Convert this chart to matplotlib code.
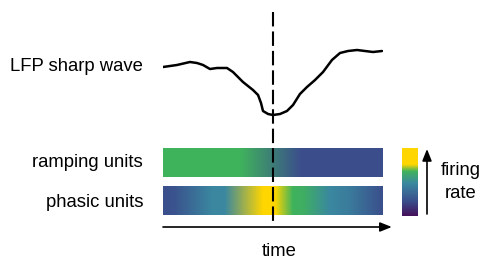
import numpy as np
import matplotlib
matplotlib.use("Agg")
import matplotlib.pyplot as plt
from matplotlib.colors import LinearSegmentedColormap
from matplotlib.patches import FancyArrowPatch

plt.rcParams["font.family"] = ["Liberation Sans", "DejaVu Sans"]
plt.rcParams["lines.scale_dashes"] = False

# ---------------- data ----------------
row_labels = ["ramping units", "phasic units"]
lfp_label = "LFP sharp wave"
time_label = "time"
cbar_label = "firing\nrate"
event_time = 0.0

# LFP sharp wave trace (time in ms, amplitude in a.u.)
lfp_t = [-100, -87.3, -75.5, -69.1, -63.6, -57.3, -50.9, -41.8, -36.4, -27.3,
         -18.2, -13.6, -10.9, -9.1, -4.5, 0.0, 6.4, 12.7, 18.2, 24.5,
         30.9, 38.2, 45.5, 53.6, 60.9, 68.2, 76.4, 83.6, 90.9, 99.1]
lfp_amp = [0.0, 0.2, 0.5, 0.4, 0.2, -0.2, -0.1, -0.1, -0.5, -1.5,
           -2.3, -2.8, -3.6, -4.4, -4.7, -4.8, -4.7, -4.4, -3.8, -2.7,
           -2.0, -1.3, -0.5, 0.7, 1.4, 1.6, 1.7, 1.6, 1.5, 1.6]

# normalized firing rate profiles (knots along time)
ramp_t = [-100, -30, 25, 100]
ramp_rate = [0.66, 0.66, 0.22, 0.22]
phasic_t = [-100, -90, -55, -44, -9, 0, 2, 18, 28, 52, 70, 100]
phasic_rate = [0.22, 0.24, 0.48, 0.48, 1.0, 1.0, 0.95, 0.66, 0.64, 0.48, 0.42, 0.22]

# colour scale for firing rate
cmap_pos = [0.0, 0.22, 0.48, 0.66, 0.76, 1.0]
cmap_cols = ["#45105a", "#3b4f8c", "#3a88a0", "#40b35c", "#ffd600", "#ffd600"]
rate_cmap = LinearSegmentedColormap.from_list("rate", list(zip(cmap_pos, cmap_cols)))

# ---------------- figure ----------------
W, H = 482, 260
fig = plt.figure(figsize=(W / 100, H / 100), dpi=100)


def px_axes(x0, y0, x1, y1):
    ax = fig.add_axes([x0 / W, 1 - y1 / H, (x1 - x0) / W, (y1 - y0) / H])
    ax.set_axis_off()
    return ax


T0, T1 = -100, 100

# LFP panel
ax_lfp = px_axes(163, 40, 383, 125)
ax_lfp.plot(lfp_t, lfp_amp, color="black", lw=1.8, solid_joinstyle="round",
            solid_capstyle="round")
ax_lfp.set_xlim(T0, T1)
ax_lfp.set_ylim(-5.8, 2.7)


def gradient_image(knot_t, knot_rate, n=441):
    grid = np.linspace(T0, T1, n)
    cols = rate_cmap(np.asarray(knot_rate))[:, :3]
    rgb = np.stack([np.interp(grid, knot_t, cols[:, c]) for c in range(3)], -1)
    return rgb[None, :, :]


bar_boxes = [(163, 148, 383, 177), (163, 186, 383, 215)]
for (x0, y0, x1, y1), kt, kr in zip(bar_boxes, [ramp_t, phasic_t], [ramp_rate, phasic_rate]):
    ax = px_axes(x0, y0, x1, y1)
    ax.imshow(gradient_image(kt, kr), aspect="auto", extent=[T0, T1, 0, 1],
              interpolation="bilinear")
    ax.set_xlim(T0, T1)

# colour bar
ax_cb = px_axes(402, 148, 418, 216)
ax_cb.imshow(np.linspace(1, 0, 256)[:, None], cmap=rate_cmap, aspect="auto",
             vmin=0, vmax=1, interpolation="bilinear")

# overlay (time on x, pixel rows on y)
ov = fig.add_axes([0, 0, 1, 1])
ov.set_axis_off()
ov.patch.set_alpha(0)
ov.set_xlim(-273 / 1.1, (W - 273) / 1.1)
ov.set_ylim(H, 0)

ov.plot([event_time, event_time], [12, 224], color="black", lw=1.5,
        dashes=(10.4, 3.6))

ov.add_patch(FancyArrowPatch((T0, 227), (108, 227),
                             arrowstyle="-|>,head_length=7,head_width=2.8",
                             mutation_scale=1, color="black", lw=1.2,
                             shrinkA=0, shrinkB=0))
xcb = (427 - 273) / 1.1
ov.add_patch(FancyArrowPatch((xcb, 214), (xcb, 149),
                             arrowstyle="-|>,head_length=7,head_width=2.8",
                             mutation_scale=1, color="black", lw=1.2,
                             shrinkA=0, shrinkB=0))

fs = 13.3
xl = (143 - 273) / 1.1
ov.text(xl, 71, lfp_label, ha="right", va="baseline", fontsize=fs)
ov.text(xl, 167, row_labels[0], ha="right", va="baseline", fontsize=fs)
ov.text(xl, 207, row_labels[1], ha="right", va="baseline", fontsize=fs)
ov.text((279 - 273) / 1.1, 255.5, time_label, ha="center", va="baseline", fontsize=fs)
xf = (461 - 273) / 1.1
ov.text(xf, 175, "firing", ha="center", va="baseline", fontsize=fs)
ov.text(xf, 198, "rate", ha="center", va="baseline", fontsize=fs)

fig.savefig("out.png", dpi=100)
